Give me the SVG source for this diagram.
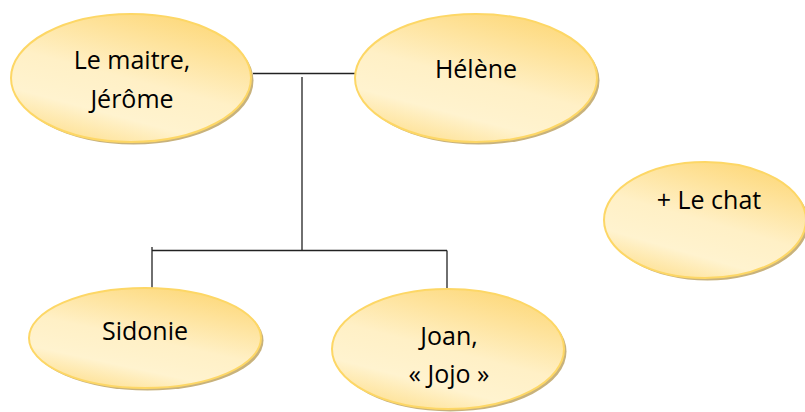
<svg xmlns="http://www.w3.org/2000/svg" width="805" height="412" viewBox="0 0 805 412">
<defs>
<linearGradient id="g" x1="0.85" y1="0" x2="0.35" y2="1">
<stop offset="0" stop-color="#fdd673"/>
<stop offset="0.55" stop-color="#fff0c6"/>
<stop offset="0.8" stop-color="#fff3cf"/>
<stop offset="1" stop-color="#fee39b"/>
</linearGradient>
<style>
.sh{fill:#c8b27c;}
.el{fill:url(#g);stroke:#fdd766;stroke-width:2;}
.t{font-family:"Open Sans","Liberation Sans",Arial,sans-serif;font-size:25px;fill:#000;text-anchor:middle;}
.c{stroke:#222;stroke-width:1.3;fill:none;}
</style>
</defs>
<rect width="805" height="412" fill="#fff"/>
<g id="connectors">
<path class="c" d="M253 73.5 H355"/>
<path class="c" d="M302 77 V250.5"/>
<path class="c" d="M152 250.5 H447"/>
<path class="c" d="M152 247 V289"/>
<path class="c" d="M447 250.5 V289"/>
</g>
<g id="n1">
<ellipse class="sh" cx="133.5" cy="80.5" rx="120" ry="64"/>
<ellipse class="el" cx="131" cy="78" rx="120" ry="64"/>
<text class="t" x="132" y="69">Le maitre,</text>
<text class="t" x="132" y="108">Jérôme</text>
</g>
<g id="n2">
<ellipse class="sh" cx="478.5" cy="80.5" rx="121" ry="64"/>
<ellipse class="el" cx="476" cy="78" rx="121" ry="64"/>
<text class="t" x="476" y="78">Hélène</text>
</g>
<g id="n3">
<ellipse class="sh" cx="707.5" cy="222.5" rx="101" ry="58"/>
<ellipse class="el" cx="705" cy="220" rx="101" ry="58"/>
<text class="t" x="709" y="209">+ Le chat</text>
</g>
<g id="n4">
<ellipse class="sh" cx="147.5" cy="340.5" rx="116" ry="50"/>
<ellipse class="el" cx="145" cy="338" rx="116" ry="50"/>
<text class="t" x="145" y="340">Sidonie</text>
</g>
<g id="n5">
<ellipse class="sh" cx="450.5" cy="351.5" rx="116" ry="60"/>
<ellipse class="el" cx="448" cy="349" rx="116" ry="60"/>
<text class="t" x="449" y="345">Joan,</text>
<text class="t" x="449" y="383">« Jojo »</text>
</g>
</svg>
